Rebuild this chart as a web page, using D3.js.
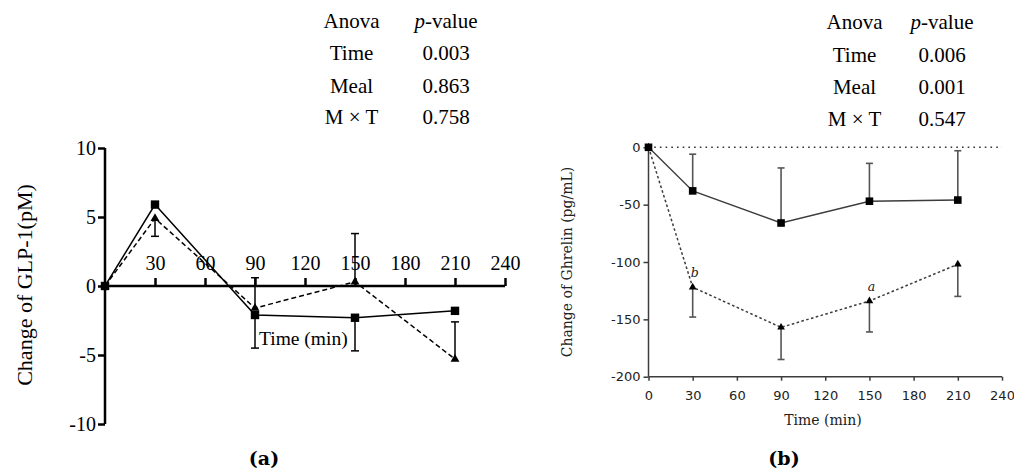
<!DOCTYPE html>
<html><head><meta charset="utf-8">
<script src="https://cdn.jsdelivr.net/npm/d3@7"></script>
<style>
html,body{margin:0;padding:0;background:#fff;}
svg{display:block;}
</style></head>
<body>
<svg id="chart" width="1014" height="472"></svg>
<script>
// ---------- Data ----------
// Panel (a): GLP-1
const timesA = [0, 30, 90, 150, 210];
const glpMeal1 = [0, 5.9, -2.1, -2.3, -1.8];        // squares, solid
const glpMeal1ErrEnd = [null, null, -4.5, -4.7, null];
const glpMeal2 = [0, 4.9, -1.6, 0.3, -5.3];         // triangles, dashed
const glpMeal2ErrEnd = [null, 3.6, 0.6, 3.8, -2.6];
const xTicksA = [30, 60, 90, 120, 150, 180, 210, 240];
const yTicksA = [-10, -5, 0, 5, 10];

// Panel (b): Ghrelin
const timesB = [0, 30, 90, 150, 210];
const ghrMeal1 = [0, -38, -66, -47, -46];            // squares, solid
const ghrMeal1ErrEnd = [null, -6, -18, -14, -3];
const ghrMeal2 = [0, -122, -157, -134, -102];        // triangles, dotted
const ghrMeal2ErrEnd = [null, -148, -185, -161, -130];
const xTicksB = [0, 30, 60, 90, 120, 150, 180, 210, 240];
const yTicksB = [-200, -150, -100, -50, 0];
const letterTimes = [30, 150];
const letterLabels = ["b", "a"];

// ANOVA tables
const anovaRows = ["Time", "Meal", "M × T"];
const anovaA = ["0.003", "0.863", "0.758"];
const anovaB = ["0.006", "0.001", "0.547"];

const svg = d3.select("#chart");

// ---------- Tables ----------
function table(cx1, cx2, y0s, values, font, size) {
  const g = svg.append("g").attr("font-family", font).attr("font-size", size).attr("fill", "#000");
  g.append("text").attr("x", cx1).attr("y", y0s[0]).attr("text-anchor", "middle").text("Anova");
  const t = g.append("text").attr("x", cx2).attr("y", y0s[0]).attr("text-anchor", "middle");
  t.append("tspan").attr("font-style", "italic").text("p");
  t.append("tspan").text("-value");
  anovaRows.forEach((r, i) => {
    g.append("text").attr("x", cx1).attr("y", y0s[i + 1]).attr("text-anchor", "middle").text(r);
    g.append("text").attr("x", cx2).attr("y", y0s[i + 1]).attr("text-anchor", "middle").text(values[i]);
  });
}
table(351.5, 446, [28, 60, 92.5, 124], anovaA, "'Liberation Serif', serif", 21);
table(854.5, 942, [29, 61.5, 94, 125.5], anovaB, "'Liberation Serif', serif", 21);

// ---------- Panel (a) ----------
const xA = d3.scaleLinear().domain([0, 240]).range([105, 505]);
const yA = d3.scaleLinear().domain([-10, 10]).range([424, 148]);
const gA = svg.append("g");
const fontA = "'Liberation Serif', serif";

const axA_y = gA.append("g").attr("transform", `translate(${xA(0)},0)`)
  .call(d3.axisLeft(yA).tickValues(yTicksA).tickSize(7).tickPadding(2).tickFormat(d => String(d)));
const axA_x = gA.append("g").attr("transform", `translate(0,${yA(0)})`)
  .call(d3.axisTop(xA).tickValues(xTicksA).tickSize(8).tickSizeOuter(0).tickPadding(8).tickFormat(d => String(d)));
[axA_y, axA_x].forEach(a => {
  a.selectAll("path,line").attr("stroke", "#000").attr("stroke-width", 2.5);
  a.selectAll("text").attr("font-family", fontA).attr("font-size", 20).attr("fill", "#000");
});
axA_y.select("path").attr("d", `M0,${yA(-10)}V${yA(10)}`);
axA_x.select("path").attr("d", `M${xA(0)},0H${xA(240)}`);

const lineA = d3.line().x((d, i) => xA(timesA[i])).y(d => yA(d));

function errBars(g, xs, vals, ends, x, y, cap, color, w) {
  vals.forEach((v, i) => {
    const e = ends[i];
    if (e === null) return;
    g.append("line").attr("x1", x(xs[i])).attr("x2", x(xs[i])).attr("y1", y(v)).attr("y2", y(e))
      .attr("stroke", color).attr("stroke-width", w);
    g.append("line").attr("x1", x(xs[i]) - cap / 2).attr("x2", x(xs[i]) + cap / 2).attr("y1", y(e)).attr("y2", y(e))
      .attr("stroke", color).attr("stroke-width", w);
  });
}
errBars(gA, timesA, glpMeal1, glpMeal1ErrEnd, xA, yA, 8, "#000", 1.5);
errBars(gA, timesA, glpMeal2, glpMeal2ErrEnd, xA, yA, 8, "#000", 1.5);

gA.append("path").datum(glpMeal2).attr("d", lineA).attr("fill", "none")
  .attr("stroke", "#000").attr("stroke-width", 1.5).attr("stroke-dasharray", "5,3");
gA.append("path").datum(glpMeal1).attr("d", lineA).attr("fill", "none")
  .attr("stroke", "#000").attr("stroke-width", 1.5);

const tri = d3.symbol(d3.symbolTriangle, 34);
gA.selectAll(".triA").data(glpMeal2).enter().append("path")
  .attr("d", tri).attr("transform", (d, i) => `translate(${xA(timesA[i])},${yA(d)})`).attr("fill", "#000");
gA.selectAll(".sqA").data(glpMeal1).enter().append("rect")
  .attr("x", (d, i) => xA(timesA[i]) - 4.2).attr("y", d => yA(d) - 4.2)
  .attr("width", 8.4).attr("height", 8.4).attr("fill", "#000");

gA.append("text").attr("x", 259).attr("y", 345).attr("font-family", fontA).attr("font-size", 19.5)
  .attr("fill", "#000").text("Time (min)");
gA.append("text").attr("transform", "translate(24,285) rotate(-90)").attr("text-anchor", "middle")
  .attr("dy", "0.35em").attr("font-family", fontA).attr("font-size", 22).attr("fill", "#000")
  .text("Change of GLP-1(pM)");
gA.append("text").attr("x", 264).attr("y", 465).attr("text-anchor", "middle")
  .attr("font-family", "'DejaVu Serif', serif").attr("font-weight", "bold").attr("font-size", 19).text("(a)");

// ---------- Panel (b) ----------
const xB = d3.scaleLinear().domain([0, 240]).range([648.5, 1002]);
const yB = d3.scaleLinear().domain([-200, 0]).range([376.7, 147.3]);
const gB = svg.append("g");
const grey = "#3c3c3c";

// zero reference dotted line
gB.append("line").attr("x1", xB(0)).attr("x2", xB(240)).attr("y1", yB(0)).attr("y2", yB(0))
  .attr("stroke", "#333").attr("stroke-width", 1.6).attr("stroke-dasharray", "1.6,4.1");

const axB_y = gB.append("g").attr("transform", `translate(${xB(0)},0)`)
  .call(d3.axisLeft(yB).tickValues(yTicksB).tickSize(5).tickPadding(3).tickFormat(d => String(d)));
const axB_x = gB.append("g").attr("transform", `translate(0,${yB(-200)})`)
  .call(d3.axisBottom(xB).tickValues(xTicksB).tickSize(4).tickSizeOuter(0).tickPadding(10).tickFormat(d => String(d)));
[axB_y, axB_x].forEach(a => {
  a.selectAll("path,line").attr("stroke", grey).attr("stroke-width", 1.5);
  a.selectAll("text").attr("font-family", "'DejaVu Sans', sans-serif").attr("font-size", 13).attr("fill", "#222");
});
axB_y.select("path").attr("d", `M0,${yB(-200)}V${yB(0)}`);
axB_x.select("path").attr("d", `M${xB(0)},0H${xB(240)}`);

const lineB = d3.line().x((d, i) => xB(timesB[i])).y(d => yB(d));
errBars(gB, timesB, ghrMeal1, ghrMeal1ErrEnd, xB, yB, 7, "#555", 1.6);
errBars(gB, timesB, ghrMeal2, ghrMeal2ErrEnd, xB, yB, 7, "#555", 1.6);

gB.append("path").datum(ghrMeal2).attr("d", lineB).attr("fill", "none")
  .attr("stroke", grey).attr("stroke-width", 1.5).attr("stroke-dasharray", "2.6,2.4");
gB.append("path").datum(ghrMeal1).attr("d", lineB).attr("fill", "none")
  .attr("stroke", grey).attr("stroke-width", 1.4);

const triB = d3.symbol(d3.symbolTriangle, 26);
gB.selectAll(".triB").data(ghrMeal2).enter().append("path")
  .attr("d", triB).attr("transform", (d, i) => `translate(${xB(timesB[i])},${yB(d)})`).attr("fill", "#000");
gB.selectAll(".sqB").data(ghrMeal1).enter().append("rect")
  .attr("x", (d, i) => xB(timesB[i]) - 3.8).attr("y", d => yB(d) - 3.8)
  .attr("width", 7.6).attr("height", 7.6).attr("fill", "#000");

letterTimes.forEach((t, i) => {
  const idx = timesB.indexOf(t);
  gB.append("text").attr("x", xB(t) + 2).attr("y", yB(ghrMeal2[idx]) - 10).attr("text-anchor", "middle")
    .attr("font-family", "'DejaVu Serif', serif").attr("font-style", "italic").attr("font-size", 12.5)
    .attr("fill", "#222").text(letterLabels[i]);
});

gB.append("text").attr("x", 823).attr("y", 425).attr("text-anchor", "middle")
  .attr("font-family", "'DejaVu Serif', serif").attr("font-size", 14).attr("fill", "#222").text("Time (min)");
gB.append("text").attr("transform", "translate(567,262) rotate(-90)").attr("text-anchor", "middle")
  .attr("dy", "0.35em").attr("font-family", "'DejaVu Serif', serif").attr("font-size", 14)
  .attr("fill", "#222").text("Change of Ghrelin (pg/mL)");
gB.append("text").attr("x", 784).attr("y", 465).attr("text-anchor", "middle")
  .attr("font-family", "'DejaVu Serif', serif").attr("font-weight", "bold").attr("font-size", 19).text("(b)");
</script>
</body></html>
